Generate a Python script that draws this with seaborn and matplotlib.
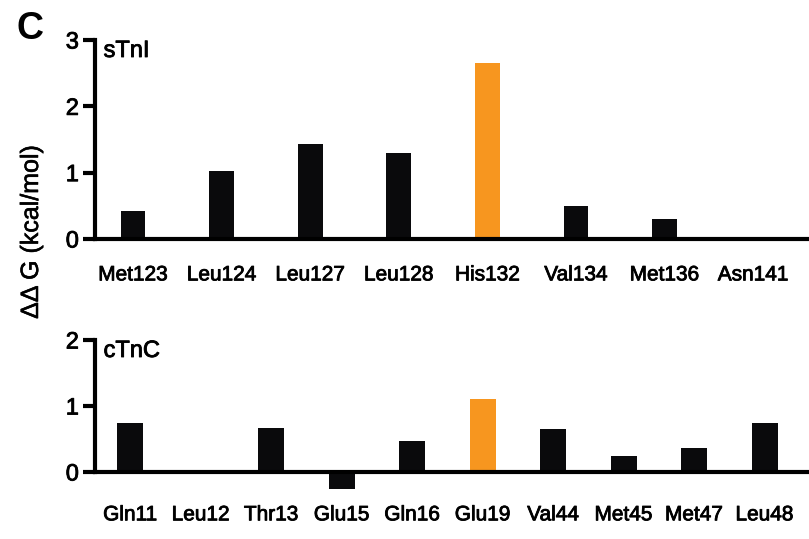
import matplotlib
matplotlib.use("Agg")
import matplotlib.pyplot as plt
import matplotlib.patheffects as pe
import seaborn as sns
import pandas as pd

sns.set_theme(style="white")
plt.rcParams["font.family"] = ["Liberation Sans", "DejaVu Sans"]

# Binding free energy changes per residue
stni_residues = ["Met123", "Leu124", "Leu127", "Leu128", "His132", "Val134", "Met136", "Asn141"]
stni_ddg = [0.42, 1.03, 1.43, 1.30, 2.66, 0.50, 0.30, 0.0]

ctnc_residues = ["Gln11", "Leu12", "Thr13", "Glu15", "Gln16", "Glu19", "Val44", "Met45", "Met47", "Leu48"]
ctnc_ddg = [0.74, 0.0, 0.67, -0.26, 0.47, 1.11, 0.65, 0.24, 0.36, 0.74]

highlight_stni = "His132"
highlight_ctnc = "Glu19"

BLACK = "#0a0a0c"
ORANGE = "#F7961F"
# slightly heavier strokes for all text
HEAVY = [pe.withStroke(linewidth=0.6, foreground="black")]

fig = plt.figure(figsize=(8.09, 5.39), dpi=100)
ax_top = fig.add_axes([95 / 809, 1 - 239 / 539, 714 / 809, 199 / 539])
ax_bot = fig.add_axes([95 / 809, 1 - 491.8 / 539, 714 / 809, 151.8 / 539])


def draw_panel(ax, residues, values, highlight, width, ylim, yticks, name, pad):
    df = pd.DataFrame({"residue": residues, "ddg": values})
    palette = {r: (ORANGE if r == highlight else BLACK) for r in residues}
    sns.barplot(data=df, x="residue", y="ddg", hue="residue", palette=palette,
                legend=False, width=width, saturation=1, ax=ax, linewidth=0)
    ax.set_ylim(*ylim)
    ax.set_yticks(yticks)
    ax.set_xlabel("")
    ax.set_ylabel("")
    for s in ["top", "right"]:
        ax.spines[s].set_visible(False)
    ax.spines["left"].set_linewidth(3)
    ax.spines["left"].set_color("black")
    ax.spines["left"].set_bounds(0, yticks[-1])
    ax.spines["bottom"].set_position(("data", 0))
    ax.spines["bottom"].set_linewidth(3)
    ax.spines["bottom"].set_color("black")
    ax.tick_params(axis="y", left=True, length=8.6, width=3, color="black",
                   labelsize=17, pad=3, labelcolor="black")
    ax.tick_params(axis="x", bottom=False, length=0, labelsize=15, pad=pad,
                   labelcolor="black")
    for lbl in ax.get_xticklabels() + ax.get_yticklabels():
        lbl.set_path_effects(HEAVY)
    ax.text(0.012, 1.0, name, transform=ax.transAxes, fontsize=17,
            ha="left", va="top", color="black", path_effects=HEAVY)


draw_panel(ax_top, stni_residues, stni_ddg, highlight_stni, 0.28, (0, 3), [0, 1, 2, 3], "sTnI", 19)
ax_top.set_xlim(-0.43, 7.63)

draw_panel(ax_bot, ctnc_residues, ctnc_ddg, highlight_ctnc, 0.37, (-0.3, 2), [0, 1, 2], "cTnC", 24)
ax_bot.set_xlim(-0.5, 9.63)

fig.text(31 / 809, 1 - 232 / 539, "ΔΔ G (kcal/mol)", rotation=90, fontsize=18,
         ha="center", va="center", color="black",
         path_effects=[pe.withStroke(linewidth=0.4, foreground="black")])
fig.text(30 / 809, 1 - 29 / 539, "C", fontsize=27, fontweight="bold",
         ha="center", va="center", color="black")

fig.savefig("out.png", dpi=100, facecolor="white")
